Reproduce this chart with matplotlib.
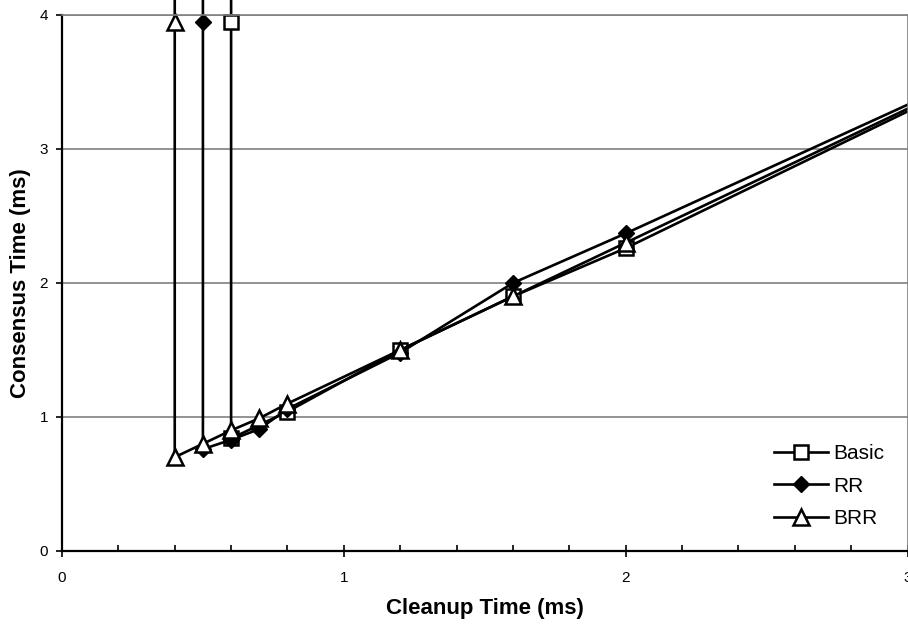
import matplotlib.pyplot as plt
from matplotlib.ticker import MultipleLocator

plt.rcParams['font.family'] = ['Liberation Sans', 'DejaVu Sans']

# cleanup time (ms) vs consensus time (ms); first point of each series lies above the chart,
# last point sits on the right edge (markers hidden for both)
basic_x = [0.6, 0.6, 0.6, 0.8, 1.2, 1.6, 2.0, 3.0]
basic_y = [4.5, 3.95, 0.84, 1.04, 1.50, 1.90, 2.26, 3.28]

rr_x = [0.5, 0.5, 0.5, 0.6, 0.7, 0.8, 1.2, 1.6, 2.0, 3.0]
rr_y = [4.5, 3.95, 0.76, 0.83, 0.91, 1.06, 1.48, 2.00, 2.37, 3.33]

brr_x = [0.4, 0.4, 0.4, 0.5, 0.6, 0.7, 0.8, 1.2, 1.6, 2.0, 3.0]
brr_y = [4.5, 3.95, 0.70, 0.80, 0.90, 0.99, 1.10, 1.50, 1.90, 2.30, 3.30]

fig = plt.figure(figsize=(9.08, 6.24), dpi=100)
ax = fig.add_axes([62 / 908, 73 / 624, 845.5 / 908, 536 / 624])

lw = 1.9
ax.plot(basic_x, basic_y, color='black', lw=lw, marker='s', ms=10, mfc='white',
        mec='black', mew=1.8, markevery=slice(1, -1), label='Basic', clip_on=False)
ax.plot(rr_x, rr_y, color='black', lw=lw, marker='D', ms=8, mfc='black',
        mec='black', markevery=slice(1, -1), label='RR', clip_on=False)
ax.plot(brr_x, brr_y, color='black', lw=lw, marker='^', ms=11, mfc='white',
        mec='black', mew=1.8, markevery=slice(1, -1), label='BRR', clip_on=False)

ax.set_xlim(0, 3)
ax.set_ylim(0, 4)
ax.xaxis.set_major_locator(MultipleLocator(1))
ax.xaxis.set_minor_locator(MultipleLocator(0.2))
ax.yaxis.set_major_locator(MultipleLocator(1))
ax.grid(axis='y', color='#808080', lw=1.2)
ax.set_axisbelow(True)

for side in ['top', 'right']:
    ax.spines[side].set_color('#808080')
    ax.spines[side].set_linewidth(1.2)
for side in ['left', 'bottom']:
    ax.spines[side].set_linewidth(1.6)

ax.tick_params(axis='x', which='major', direction='inout', length=9, width=1.2,
               labelsize=11, pad=10)
ax.tick_params(axis='x', which='minor', direction='in', length=4, width=1.2)
ax.tick_params(axis='y', which='major', direction='out', length=4, width=1.2,
               labelsize=11, pad=6)

ax.set_xlabel('Cleanup Time (ms)', fontsize=16, fontweight='bold', labelpad=9)
ax.set_ylabel('Consensus Time (ms)', fontsize=16, fontweight='bold', labelpad=6)

ax.legend(loc='center left', bbox_to_anchor=(0.842, 0.121), frameon=False,
          fontsize=15, borderpad=0, borderaxespad=0, handlelength=2.6,
          handletextpad=0.25, labelspacing=0.65)

fig.savefig('out.png', dpi=100)
